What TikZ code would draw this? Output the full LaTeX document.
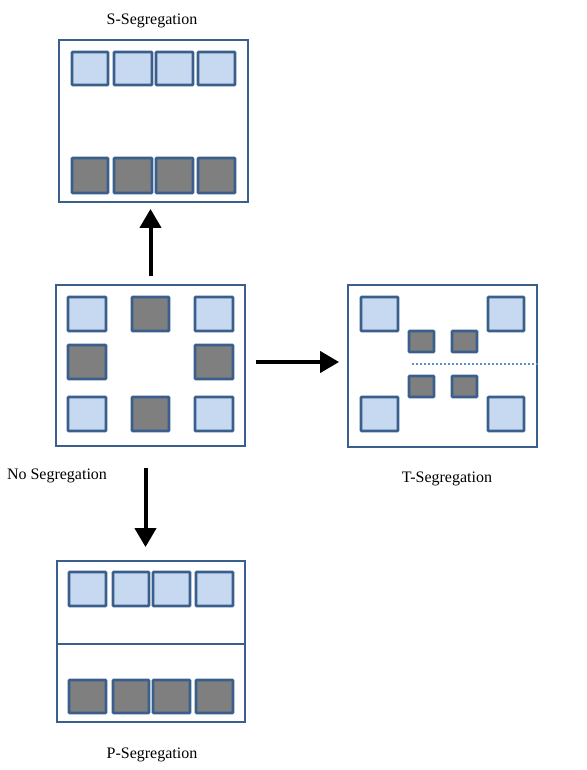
\documentclass[tikz,border=0pt]{standalone}
\usepackage{fontspec}
\setmainfont{Liberation Serif}
\usetikzlibrary{arrows.meta}
\definecolor{bord}{HTML}{3A5F8D}
\definecolor{lblue}{HTML}{C6D9F1}
\definecolor{dgray}{HTML}{7F7F7F}
\definecolor{dotc}{HTML}{5B8FD0}
\tikzset{
  panel/.style={draw=bord, line width=1.8pt, minimum width=189pt, minimum height=161pt, inner sep=0pt},
  lsq/.style={draw=bord, line width=2.6pt, fill=lblue, rounded corners=0.8pt},
  dsq/.style={draw=bord, line width=2.6pt, fill=dgray, rounded corners=0.8pt},
  lbl/.style={font=\fontsize{16}{19}\selectfont, inner sep=0pt},
  arr/.style={line width=4pt, -{Triangle[length=19pt,width=21pt]}}
}
\begin{document}
\begin{tikzpicture}[x=1pt,y=-1pt]
\useasboundingbox (0,0) rectangle (586,770);
% panels
\node[panel, minimum height=162pt] (sseg) at (153.5,121) {};
\node[panel] (noseg) at (150.5,365.5) {};
\node[panel, minimum height=162pt] (tseg) at (442.5,366) {};
\node[panel, minimum width=188pt] (pseg) at (151,641.5) {};
% S-Segregation squares
\draw[lsq] (72,52) rectangle (108,85);
\draw[lsq] (114,52) rectangle (152,85);
\draw[lsq] (156,52) rectangle (193,85);
\draw[lsq] (198,52) rectangle (235,85);
\draw[dsq] (72,158) rectangle (108,193);
\draw[dsq] (114,158) rectangle (152,193);
\draw[dsq] (156,158) rectangle (193,193);
\draw[dsq] (198,158) rectangle (235,193);
% No Segregation squares
\draw[lsq] (68,297) rectangle (106,331);
\draw[dsq] (132,297) rectangle (169,331);
\draw[lsq] (195,297) rectangle (233,331);
\draw[dsq] (68,345) rectangle (106,379);
\draw[dsq] (195,345) rectangle (233,379);
\draw[lsq] (68,397) rectangle (106,431);
\draw[dsq] (132,397) rectangle (169,431);
\draw[lsq] (195,397) rectangle (233,431);
% T-Segregation squares
\draw[lsq] (361,297) rectangle (398,331);
\draw[lsq] (488,297) rectangle (524,331);
\draw[lsq] (361,397) rectangle (398,431);
\draw[lsq] (488,397) rectangle (524,431);
\draw[dsq] (409,331) rectangle (434,352);
\draw[dsq] (452,331) rectangle (477,352);
\draw[dsq] (409,376) rectangle (434,397);
\draw[dsq] (452,376) rectangle (477,397);
\coordinate (dl) at (412,364);
\draw[dotc, line width=1.6pt, dash pattern=on 1.6pt off 2.4pt] (dl) -- (dl -| tseg.east);
% P-Segregation
\draw[draw=bord, line width=1.8pt] (pseg.west |- 0,644) -- (pseg.east |- 0,644);
\draw[lsq] (69,572) rectangle (106,606);
\draw[lsq] (113,572) rectangle (149,606);
\draw[lsq] (153,572) rectangle (190,606);
\draw[lsq] (196,572) rectangle (233,606);
\draw[dsq] (69,680) rectangle (106,713);
\draw[dsq] (113,680) rectangle (149,713);
\draw[dsq] (153,680) rectangle (190,713);
\draw[dsq] (196,680) rectangle (233,713);
% arrows
\draw[arr, shorten <=8pt, shorten >=6pt] (noseg.north) -- (noseg.north |- sseg.south);
\draw[arr, shorten <=10pt, shorten >=8pt] ([yshift=3.5pt]noseg.east) -- ([yshift=3.5pt]noseg.east -| tseg.west);
\draw[arr, shorten <=21pt, shorten >=13pt] ([xshift=-5pt]noseg.south) -- ([xshift=-5pt]noseg.south |- pseg.north);
% labels
\node[lbl] (lS) at (152,20.5) {S-Segregation};
\node[lbl] (lN) at (57,476) {No Segregation};
\node[lbl] (lT) at (447,478.5) {T-Segregation};
\node[lbl] (lP) at (152,754.5) {P-Segregation};
\end{tikzpicture}
\end{document}
